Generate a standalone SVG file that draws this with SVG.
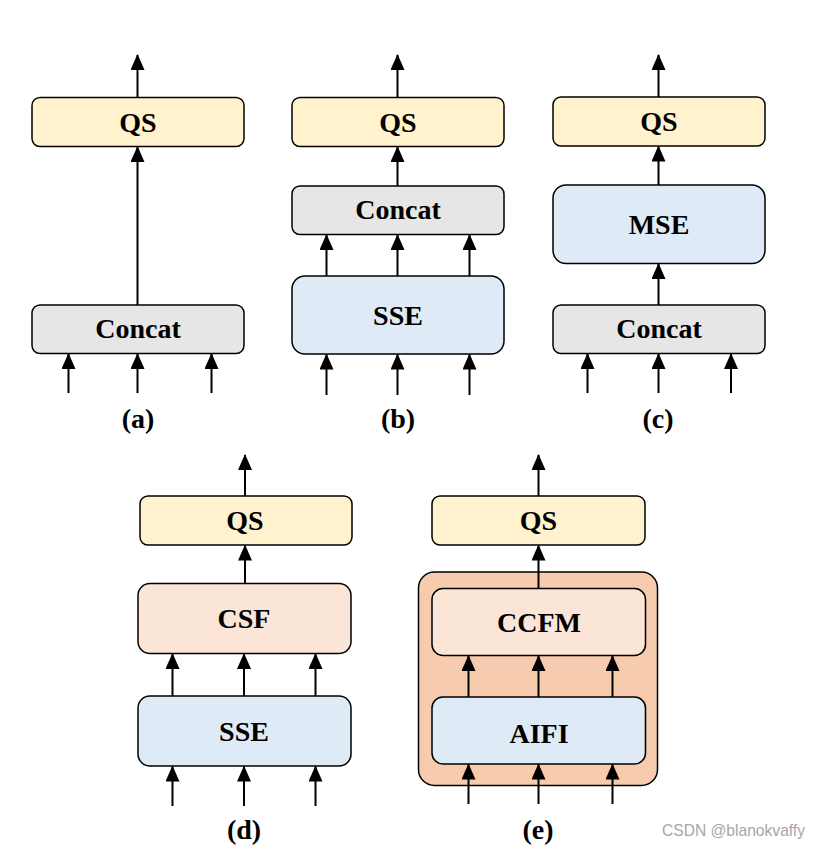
<svg xmlns="http://www.w3.org/2000/svg" width="822" height="847" viewBox="0 0 822 847">
<defs>
<marker id="ah" markerWidth="16" markerHeight="14" refX="15" refY="7" orient="auto" markerUnits="userSpaceOnUse" viewBox="0 0 16 14">
<path d="M0,0 L16,7 L0,14 Z" fill="#000"/>
</marker>
<style>
.box{stroke:#000;stroke-width:1.5}
.qs{fill:#FFF2CC}
.cc{fill:#E6E6E6}
.bl{fill:#DEEAF6}
.or{fill:#FBE5D6}
.ct{fill:#F6CBAE;stroke:#000;stroke-width:1.5}
.t{font-family:"Liberation Serif","Times New Roman",serif;font-weight:bold;font-size:28px;text-anchor:middle;fill:#000}
.lb{font-family:"Liberation Serif","Times New Roman",serif;font-weight:bold;font-size:28px;text-anchor:middle;fill:#000}
.c line{stroke:#000;stroke-width:2;marker-end:url(#ah)}
</style>
</defs>
<rect width="822" height="847" fill="#fff"/>

<!-- panel (a) -->
<g id="a-qs"><rect class="box qs" x="32" y="97.5" width="212" height="49" rx="8"/><text class="t" x="138" y="131.5">QS</text></g>
<g id="a-concat"><rect class="box cc" x="32" y="305" width="212" height="48.5" rx="8"/><text class="t" x="138" y="338">Concat</text></g>
<g id="a-label"><text class="lb" x="138" y="428">(a)</text></g>

<!-- panel (b) -->
<g id="b-qs"><rect class="box qs" x="292" y="97.5" width="212" height="49" rx="8"/><text class="t" x="398" y="131.5">QS</text></g>
<g id="b-concat"><rect class="box cc" x="292" y="186" width="212" height="48.5" rx="8"/><text class="t" x="398" y="219">Concat</text></g>
<g id="b-sse"><rect class="box bl" x="292" y="276" width="212" height="78" rx="13"/><text class="t" x="398" y="324.5">SSE</text></g>
<g id="b-label"><text class="lb" x="398" y="428">(b)</text></g>

<!-- panel (c) -->
<g id="c-qs"><rect class="box qs" x="553" y="97" width="212" height="49" rx="8"/><text class="t" x="659" y="131">QS</text></g>
<g id="c-mse"><rect class="box bl" x="553" y="185" width="212" height="78.5" rx="13"/><text class="t" x="659" y="233.5">MSE</text></g>
<g id="c-concat"><rect class="box cc" x="553" y="305" width="212" height="48.5" rx="8"/><text class="t" x="659" y="338">Concat</text></g>
<g id="c-label"><text class="lb" x="658" y="428">(c)</text></g>

<!-- panel (d) -->
<g id="d-qs"><rect class="box qs" x="140" y="496" width="212" height="49" rx="8"/><text class="t" x="245" y="530">QS</text></g>
<g id="d-csf"><rect class="box or" x="138" y="583.5" width="213" height="70" rx="12"/><text class="t" x="244" y="628">CSF</text></g>
<g id="d-sse"><rect class="box bl" x="138" y="696" width="213" height="70" rx="12"/><text class="t" x="244" y="740.5">SSE</text></g>
<g id="d-label"><text class="lb" x="244" y="839">(d)</text></g>

<!-- panel (e) -->
<g id="e-qs"><rect class="box qs" x="432" y="496" width="213" height="49" rx="8"/><text class="t" x="538.5" y="530">QS</text></g>
<g id="e-container"><rect class="ct" x="418.5" y="572" width="239" height="213.5" rx="16"/></g>
<g id="e-ccfm"><rect class="box or" x="432" y="588.5" width="213.5" height="67" rx="11"/><text class="t" x="539" y="631.5">CCFM</text></g>
<g id="e-aifi"><rect class="box bl" x="432" y="697" width="213.5" height="67" rx="11"/><text class="t" x="539" y="743">AIFI</text></g>
<g id="e-label"><text class="lb" x="538" y="839">(e)</text></g>

<g id="connectors" class="c">
<!-- a -->
<line x1="137.5" y1="97.5" x2="137.5" y2="55"/>
<line x1="137.5" y1="305" x2="137.5" y2="147"/>
<line x1="68.5" y1="393" x2="68.5" y2="354"/>
<line x1="137.5" y1="393" x2="137.5" y2="354"/>
<line x1="211.5" y1="393" x2="211.5" y2="354"/>
<!-- b -->
<line x1="397.5" y1="97.5" x2="397.5" y2="55"/>
<line x1="397.5" y1="186" x2="397.5" y2="147"/>
<line x1="326.5" y1="276" x2="326.5" y2="235"/>
<line x1="397.5" y1="276" x2="397.5" y2="235"/>
<line x1="469.5" y1="276" x2="469.5" y2="235"/>
<line x1="326.5" y1="395" x2="326.5" y2="354.5"/>
<line x1="397.5" y1="395" x2="397.5" y2="354.5"/>
<line x1="469.5" y1="395" x2="469.5" y2="354.5"/>
<!-- c -->
<line x1="658.5" y1="97" x2="658.5" y2="55"/>
<line x1="658.5" y1="185" x2="658.5" y2="146.5"/>
<line x1="658.5" y1="305" x2="658.5" y2="264"/>
<line x1="587.5" y1="393" x2="587.5" y2="354"/>
<line x1="658.5" y1="393" x2="658.5" y2="354"/>
<line x1="731" y1="393" x2="731" y2="354"/>
<!-- d -->
<line x1="245" y1="496" x2="245" y2="455"/>
<line x1="245" y1="583.5" x2="245" y2="545.5"/>
<line x1="172.5" y1="696" x2="172.5" y2="654"/>
<line x1="244" y1="696" x2="244" y2="654"/>
<line x1="315.5" y1="696" x2="315.5" y2="654"/>
<line x1="172.5" y1="806" x2="172.5" y2="766.5"/>
<line x1="244" y1="806" x2="244" y2="766.5"/>
<line x1="315.5" y1="806" x2="315.5" y2="766.5"/>
<!-- e -->
<line x1="538.5" y1="496" x2="538.5" y2="455"/>
<line x1="538.5" y1="588.5" x2="538.5" y2="545.5"/>
<line x1="468.5" y1="697" x2="468.5" y2="656"/>
<line x1="538.5" y1="697" x2="538.5" y2="656"/>
<line x1="612.5" y1="697" x2="612.5" y2="656"/>
<line x1="468.5" y1="804" x2="468.5" y2="764.5"/>
<line x1="538.5" y1="804" x2="538.5" y2="764.5"/>
<line x1="612.5" y1="804" x2="612.5" y2="764.5"/>
</g>

<text x="662" y="836" font-family="'Liberation Sans',Arial,sans-serif" font-size="17" fill="#a6a6a6" textLength="143" lengthAdjust="spacingAndGlyphs">CSDN @blanokvaffy</text>
</svg>
